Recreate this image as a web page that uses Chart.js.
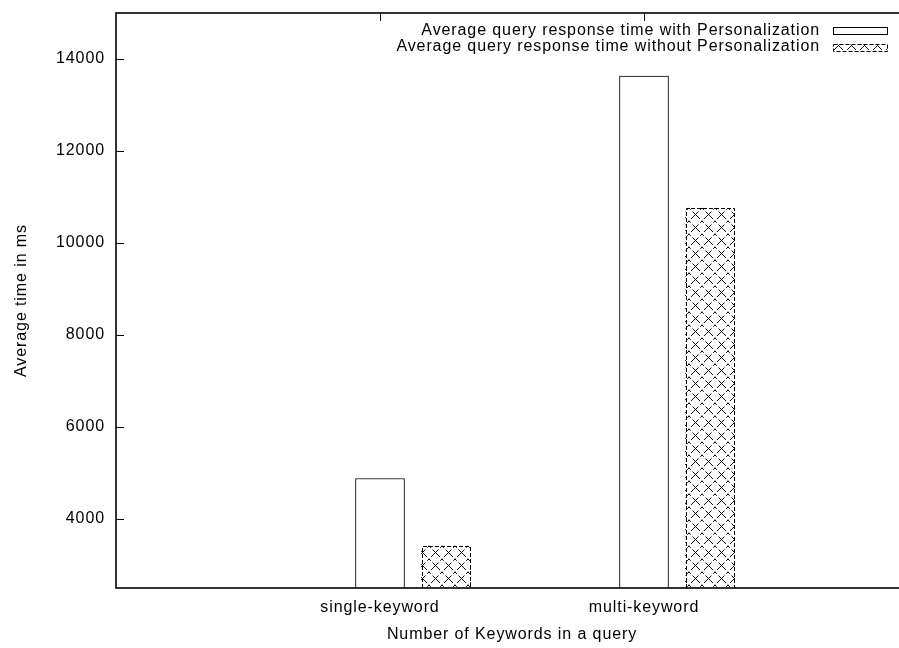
<!DOCTYPE html>
<html>
<head>
<meta charset="utf-8">
<script src="https://cdn.jsdelivr.net/npm/chart.js@4/dist/chart.umd.min.js"></script>
<style>
  html, body { margin: 0; padding: 0; background: #fff; overflow: hidden; }
  #wrap { width: 912px; height: 648px; }
</style>
</head>
<body>
<div id="wrap"><canvas id="c" width="912" height="648"></canvas></div>
<script>
// Query response times (ms), per keyword-count category
const categories = ['single-keyword', 'multi-keyword'];
const withPersonalization = [4880, 13630];
const withoutPersonalization = [3420, 10760];
const seriesLabels = [
  'Average query response time with Personalization',
  'Average query response time without Personalization'
];
const yTickValues = [4000, 6000, 8000, 10000, 12000, 14000];
const yRange = [2500, 15000];
const xRange = [-1, 2];
const secondBarShift = 0.25;   // second bar of each group sits right of the category position

const FONT = { family: '"Liberation Sans", Arial, Helvetica, sans-serif', size: 16 };
const SPACING = '0.9px';

function makeHatch() {
  const n = 13;
  const c = document.createElement('canvas');
  c.width = n; c.height = n;
  const g = c.getContext('2d');
  g.fillStyle = '#fff';
  g.fillRect(0, 0, n, n);
  g.strokeStyle = '#000';
  g.lineWidth = 1;
  g.setLineDash([4, 2.5]);
  g.lineDashOffset = 1.5;
  g.beginPath();
  g.moveTo(0, 0); g.lineTo(n, n);
  g.moveTo(n, 0); g.lineTo(0, n);
  g.stroke();
  // small cross at the tile centre
  g.setLineDash([]);
  g.beginPath();
  g.moveTo(n / 2 - 1.5, n / 2 - 1.5); g.lineTo(n / 2 + 1.5, n / 2 + 1.5);
  g.moveTo(n / 2 + 1.5, n / 2 - 1.5); g.lineTo(n / 2 - 1.5, n / 2 + 1.5);
  g.stroke();
  return document.getElementById('c').getContext('2d').createPattern(c, 'repeat');
}
const hatch = makeHatch();

const letterSpacing = {
  id: 'letterSpacing',
  beforeUpdate(chart) { chart.ctx.letterSpacing = SPACING; },
  beforeDraw(chart) { chart.ctx.letterSpacing = SPACING; }
};

// tick marks pointing into the plot, on all four sides
const innerTicks = {
  id: 'innerTicks',
  beforeDatasetsDraw(chart) {
    const { ctx, chartArea: a, scales: { x, y } } = chart;
    ctx.save();
    ctx.strokeStyle = '#000';
    ctx.lineWidth = 1;
    ctx.beginPath();
    y.ticks.forEach(t => {
      const py = Math.round(y.getPixelForValue(t.value)) + 0.5;
      ctx.moveTo(a.left, py); ctx.lineTo(a.left + 8, py);
      ctx.moveTo(a.right, py); ctx.lineTo(a.right - 8, py);
    });
    x.ticks.forEach(t => {
      const px = Math.round(x.getPixelForValue(t.value)) + 0.5;
      ctx.moveTo(px, a.top); ctx.lineTo(px, a.top + 8);
      ctx.moveTo(px, a.bottom); ctx.lineTo(px, a.bottom - 8);
    });
    ctx.stroke();
    ctx.restore();
  }
};

// dashed outline for hatched bars, then the plot frame
const outlines = {
  id: 'outlines',
  afterDatasetsDraw(chart) {
    const { ctx, chartArea: a } = chart;
    ctx.save();
    chart.data.datasets.forEach((ds, i) => {
      if (!ds.dashedOutline) return;
      chart.getDatasetMeta(i).data.forEach(bar => {
        const { x, y, width } = bar.getProps(['x', 'y', 'width'], true);
        ctx.strokeStyle = '#000';
        ctx.lineWidth = 1;
        ctx.setLineDash([4, 2]);
        ctx.beginPath();
        const l = Math.round(x - width / 2) + 0.5, r = Math.round(x + width / 2) - 0.5, t = Math.round(y) + 0.5;
        ctx.moveTo(l, a.bottom); ctx.lineTo(l, t); ctx.lineTo(r, t); ctx.lineTo(r, a.bottom);
        ctx.stroke();
      });
    });
    ctx.setLineDash([]);
    ctx.strokeStyle = '#000';
    ctx.lineWidth = 1.6;
    ctx.strokeRect(a.left, a.top, a.right - a.left, a.bottom - a.top);
    ctx.restore();
  }
};

// key in the upper right corner: text, then sample box
const keyBox = {
  id: 'keyBox',
  afterDraw(chart) {
    const { ctx, chartArea: a } = chart;
    ctx.save();
    ctx.letterSpacing = SPACING;
    ctx.font = FONT.size + 'px ' + FONT.family;
    ctx.textAlign = 'right';
    ctx.textBaseline = 'middle';
    chart.data.datasets.forEach((ds, i) => {
      const cy = a.top + 17.5 + i * 16.5;
      ctx.fillStyle = '#000';
      ctx.fillText(ds.label, a.right - 88, cy);
      const bx = Math.round(a.right - 75) + 0.5, bw = 54, bh = 7, by = Math.round(cy - bh / 2) + 0.5;
      ctx.fillStyle = ds.backgroundColor;
      ctx.fillRect(bx, by, bw, bh);
      ctx.strokeStyle = '#000';
      ctx.lineWidth = 1;
      ctx.setLineDash(ds.dashedOutline ? [4, 2] : []);
      ctx.strokeRect(bx, by, bw, bh);
    });
    ctx.restore();
  }
};

new Chart(document.getElementById('c'), {
  type: 'bar',
  data: {
    datasets: [
      {
        label: seriesLabels[0],
        data: categories.map((c, i) => ({ x: i, y: withPersonalization[i] })),
        backgroundColor: '#fff',
        borderColor: '#000',
        borderWidth: 1,
        borderSkipped: 'bottom'
      },
      {
        label: seriesLabels[1],
        data: categories.map((c, i) => ({ x: i + secondBarShift, y: withoutPersonalization[i] })),
        backgroundColor: hatch,
        borderWidth: 0,
        dashedOutline: true
      }
    ]
  },
  options: {
    responsive: false,
    animation: false,
    grouped: false,
    barThickness: 49,
    layout: { padding: { top: 13, right: 4, left: 0, bottom: 0 } },
    plugins: { legend: { display: false }, tooltip: { enabled: false }, title: { display: false } },
    scales: {
      x: {
        type: 'linear',
        min: xRange[0],
        max: xRange[1],
        offset: false,
        grid: { display: false, drawTicks: false },
        border: { display: false },
        afterBuildTicks(scale) { scale.ticks = categories.map((c, i) => ({ value: i })); },
        afterFit(scale) { scale.height = 60; scale.paddingLeft = 0; scale.paddingRight = 0; },
        ticks: {
          autoSkip: false,
          maxRotation: 0,
          padding: 10,
          color: '#000',
          font: FONT,
          callback: v => categories[v] ?? ''
        },
        title: {
          display: true,
          text: 'Number of Keywords in a query',
          color: '#000',
          font: FONT,
          padding: { top: 0, bottom: 4 }
        }
      },
      y: {
        min: yRange[0],
        max: yRange[1],
        grid: { display: false, drawTicks: false },
        border: { display: false },
        afterBuildTicks(scale) { scale.ticks = yTickValues.map(v => ({ value: v })); },
        afterFit(scale) { scale.width = 116; scale.paddingTop = 0; scale.paddingBottom = 0; },
        ticks: { padding: 11, color: '#000', font: FONT, callback: v => String(v) },
        title: {
          display: true,
          text: 'Average time in ms',
          color: '#000',
          font: FONT,
          padding: { top: 12, bottom: 0 }
        }
      }
    }
  },
  plugins: [letterSpacing, innerTicks, outlines, keyBox]
});
</script>
</body>
</html>
